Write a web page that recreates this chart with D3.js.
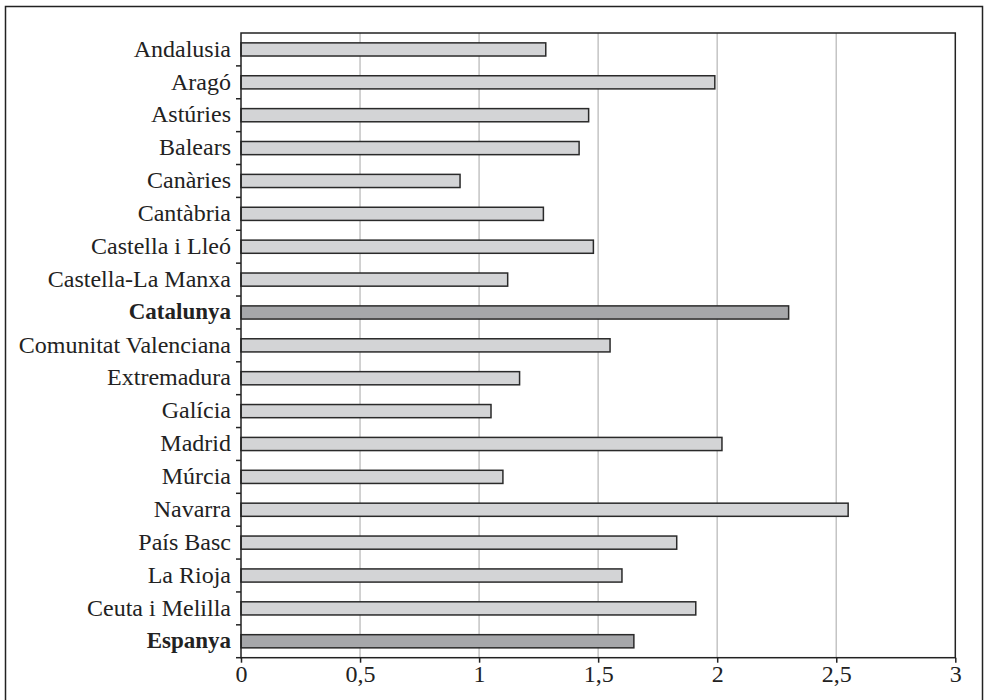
<!DOCTYPE html>
<html><head><meta charset="utf-8">
<script src="https://cdn.jsdelivr.net/npm/d3@7"></script>
<style>body{margin:0;background:#fff}svg{display:block}</style>
</head><body>
<script>
const categories = ["Andalusia","Aragó","Astúries","Balears","Canàries","Cantàbria","Castella i Lleó","Castella-La Manxa","Catalunya","Comunitat Valenciana","Extremadura","Galícia","Madrid","Múrcia","Navarra","País Basc","La Rioja","Ceuta i Melilla","Espanya"];
const values = [1.28,1.99,1.46,1.42,0.92,1.27,1.48,1.12,2.30,1.55,1.17,1.05,2.02,1.10,2.55,1.83,1.60,1.91,1.65];
const highlighted = ["Catalunya","Espanya"];
const xTicks = [0,0.5,1,1.5,2,2.5,3];
const xTickLabels = ["0","0,5","1","1,5","2","2,5","3"];

(function(){
const W = 984, H = 700;
const svg = d3.select("body").append("svg").attr("width", W).attr("height", H);
const font = "'Liberation Serif', 'Times New Roman', serif";

// outer frame
svg.append("rect").attr("x",5.5).attr("y",6.5).attr("width",977).attr("height",720)
  .attr("fill","none").attr("stroke","#222").attr("stroke-width",1.5);

const pL = 241, pR = 955.3, pT = 33, pB = 657.7;
const x = d3.scaleLinear().domain([0,3]).range([pL,pR]);
const y = d3.scaleBand().domain(categories).range([pT,pB]).paddingInner(0.6).paddingOuter(0.3);

// gridlines
svg.append("g").selectAll("line").data(xTicks.filter(d=>d>0 && d<3)).join("line")
  .attr("x1",d=>x(d)).attr("x2",d=>x(d)).attr("y1",pT).attr("y2",pB)
  .attr("stroke","#c4c4c4").attr("stroke-width",1.5);

// bars
svg.append("g").selectAll("rect").data(categories).join("rect")
  .attr("x",x(0)).attr("y",d=>y(d))
  .attr("width",(d,i)=>x(values[i])-x(0)).attr("height",y.bandwidth())
  .attr("fill",d=>highlighted.includes(d)?"#a6a7aa":"#d3d4d6")
  .attr("stroke","#2a2a2a").attr("stroke-width",1.5);

// plot frame
svg.append("rect").attr("x",pL).attr("y",pT).attr("width",pR-pL).attr("height",pB-pT)
  .attr("fill","none").attr("stroke","#222").attr("stroke-width",1.5);

// y ticks at band boundaries
const step = y.step();
const bounds = d3.range(1, categories.length+1).map(i => pT + i*step);
svg.append("g").selectAll("line").data(bounds).join("line")
  .attr("x1",pL-5).attr("x2",pL).attr("y1",d=>d).attr("y2",d=>d)
  .attr("stroke","#222").attr("stroke-width",1.5);

// y labels
svg.append("g").selectAll("text").data(categories).join("text")
  .attr("x",231).attr("y",d=>y(d)+y.bandwidth()/2).attr("dy","0.3em")
  .attr("text-anchor","end").attr("font-family",font)
  .attr("font-size",d=>highlighted.includes(d)?23:24)
  .attr("font-weight",d=>highlighted.includes(d)?"bold":"normal")
  .attr("fill","#222").text(d=>d);

// x axis
const xAxis = d3.axisBottom(x).tickValues(xTicks).tickFormat((d,i)=>xTickLabels[i]).tickSize(5).tickPadding(2);
const gx = svg.append("g").attr("transform",`translate(0,${pB})`).call(xAxis);
gx.select(".domain").remove();
gx.selectAll(".tick line").attr("stroke","#222").attr("stroke-width",1.5);
gx.selectAll(".tick text").attr("font-family",font).attr("font-size",24).attr("fill","#222");
})();
</script>
</body></html>
